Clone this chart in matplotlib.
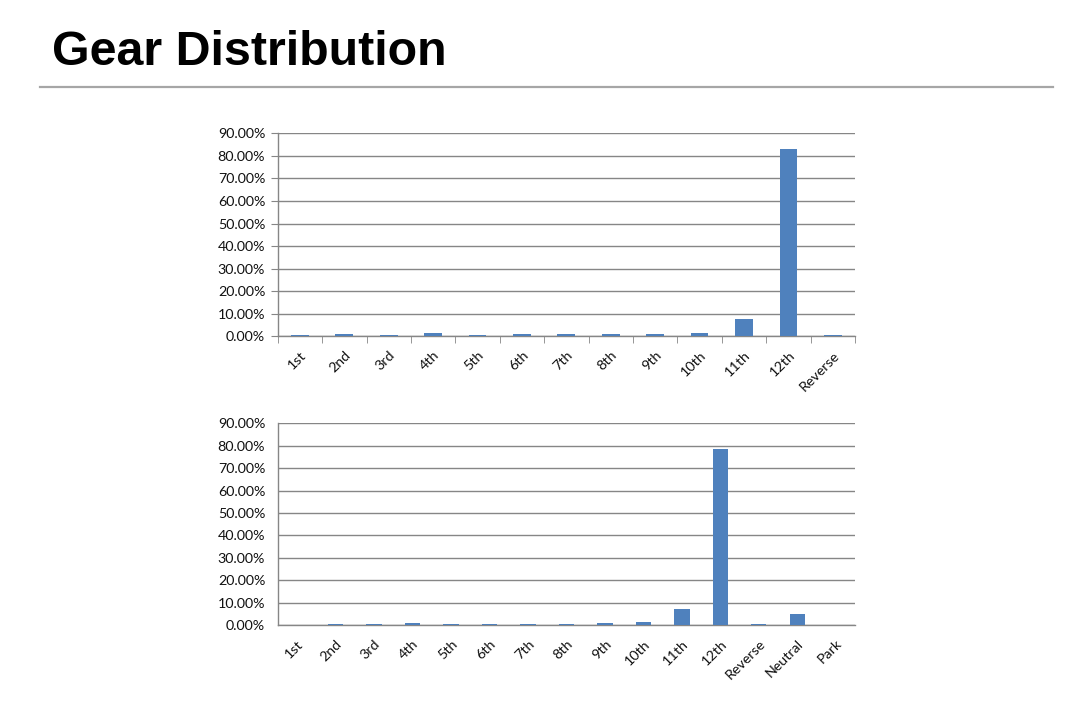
import matplotlib
matplotlib.use("Agg")
import matplotlib.pyplot as plt
from matplotlib.ticker import FuncFormatter, MultipleLocator
from matplotlib.lines import Line2D

title = "Gear Distribution"
cats_top = ["1st", "2nd", "3rd", "4th", "5th", "6th", "7th", "8th", "9th",
            "10th", "11th", "12th", "Reverse"]
vals_top = [0.6, 1.1, 0.5, 1.6, 0.5, 1.1, 1.1, 1.1, 1.1, 1.6, 7.6, 83.0, 0.5]

cats_bot = ["1st", "2nd", "3rd", "4th", "5th", "6th", "7th", "8th", "9th",
            "10th", "11th", "12th", "Reverse", "Neutral", "Park"]
vals_bot = [0.0, 0.6, 0.6, 1.0, 0.6, 0.6, 0.6, 0.6, 1.0, 1.5, 7.2, 78.5, 0.6, 5.0, 0.0]

BAR = "#4F81BD"
GRID = "#868686"
FONT = ["Lato", "DejaVu Sans"]
FS = 10.3

fig = plt.figure(figsize=(10.79, 7.10), dpi=100)
fig.patch.set_facecolor("white")

fig.text(52 / 1079, 1 - 65 / 710, title, fontsize=34.8, fontweight="bold",
         family=["Liberation Sans", "DejaVu Sans"], ha="left", va="baseline")
fig.add_artist(Line2D([40 / 1079, 1053 / 1079], [1 - 87 / 710, 1 - 87 / 710],
                      transform=fig.transFigure, color="#A6A6A6", lw=1.6))


def draw(ax, cats, vals, ticks):
    x = list(range(len(cats)))
    ax.bar(x, vals, width=0.4, color=BAR, zorder=3)
    ax.set_xlim(-0.5, len(cats) - 0.5)
    ax.set_ylim(0, 90)
    ax.yaxis.set_major_locator(MultipleLocator(10))
    ax.yaxis.set_major_formatter(FuncFormatter(lambda v, p: f"{v:.2f}%"))
    ax.grid(axis="y", color=GRID, lw=1.0, zorder=0)
    for s in ["top", "right"]:
        ax.spines[s].set_visible(False)
    for s in ["left", "bottom"]:
        ax.spines[s].set_color(GRID)
        ax.spines[s].set_linewidth(1.0)
    ax.set_xticks(x)
    ax.set_xticklabels(cats, rotation=45, ha="right", rotation_mode="anchor",
                       family=FONT, fontsize=FS, color="#111111")
    for lab in ax.get_yticklabels():
        lab.set_family(FONT)
        lab.set_fontsize(FS)
        lab.set_color("#111111")
    ax.tick_params(axis="x", length=0, pad=9)
    if ticks:
        ax.tick_params(axis="y", length=5, color=GRID, pad=4)
        ax.set_xticks([i + 0.5 for i in range(-1, len(cats))], minor=True)
        ax.tick_params(axis="x", which="minor", length=5, color=GRID)
    else:
        ax.tick_params(axis="y", length=0, pad=9)


ax1 = fig.add_axes([277.7 / 1079, 1 - 336.5 / 710, (855 - 277.7) / 1079, (336.5 - 133.3) / 710])
draw(ax1, cats_top, vals_top, True)

ax2 = fig.add_axes([277.7 / 1079, 1 - 625 / 710, (855 - 277.7) / 1079, (625 - 423.3) / 710])
draw(ax2, cats_bot, vals_bot, False)

fig.savefig("out.png", dpi=100, facecolor="white")
